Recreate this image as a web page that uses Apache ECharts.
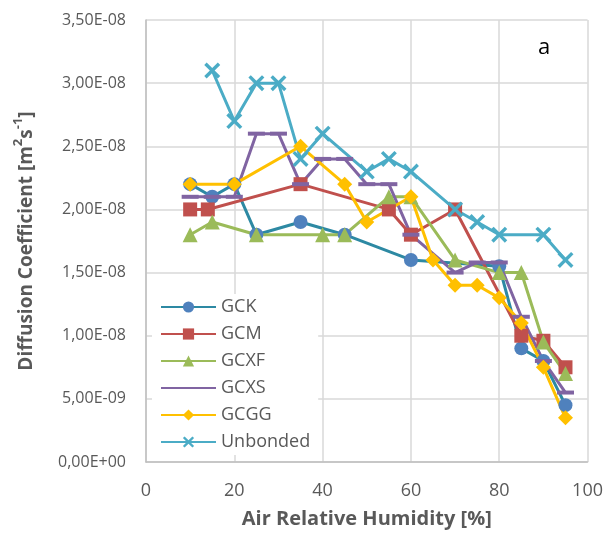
<!DOCTYPE html>
<html>
<head>
<meta charset="utf-8">
<script src="https://cdn.jsdelivr.net/npm/echarts@6/dist/echarts.min.js"></script>
<style>html,body{margin:0;padding:0;background:#fff}#c{width:606px;height:534px}</style>
</head>
<body>
<div id="c"></div>
<script>
// Data (x = air relative humidity %, y = diffusion coefficient m2/s)
const seriesNames = ['GCK', 'GCM', 'GCXF', 'GCXS', 'GCGG', 'Unbonded'];
const gckX = [10, 15, 20, 25, 35, 45, 60, 80, 85, 90, 95];
const gckY = [2.2e-8, 2.1e-8, 2.2e-8, 1.8e-8, 1.9e-8, 1.8e-8, 1.6e-8, 1.55e-8, 0.9e-8, 0.8e-8, 0.45e-8];
const gcmX = [10, 14, 35, 55, 60, 70, 85, 90, 95];
const gcmY = [2.0e-8, 2.0e-8, 2.2e-8, 2.0e-8, 1.8e-8, 2.0e-8, 1.0e-8, 0.96e-8, 0.75e-8];
const gcxfX = [10, 15, 25, 40, 45, 55, 60, 70, 80, 85, 90, 95];
const gcxfY = [1.8e-8, 1.9e-8, 1.8e-8, 1.8e-8, 1.8e-8, 2.1e-8, 2.1e-8, 1.6e-8, 1.5e-8, 1.5e-8, 0.95e-8, 0.7e-8];
const gcxsX = [10, 15, 20, 25, 30, 35, 40, 45, 50, 55, 60, 70, 75, 80, 85, 90, 95];
const gcxsY = [2.1e-8, 2.1e-8, 2.1e-8, 2.6e-8, 2.6e-8, 2.2e-8, 2.4e-8, 2.4e-8, 2.2e-8, 2.2e-8, 1.8e-8, 1.5e-8, 1.58e-8, 1.58e-8, 1.15e-8, 0.8e-8, 0.55e-8];
const gcggX = [10, 20, 35, 45, 50, 60, 65, 70, 75, 80, 85, 90, 95];
const gcggY = [2.2e-8, 2.2e-8, 2.5e-8, 2.2e-8, 1.9e-8, 2.1e-8, 1.6e-8, 1.4e-8, 1.4e-8, 1.3e-8, 1.1e-8, 0.75e-8, 0.35e-8];
const unbX = [15, 20, 25, 30, 35, 40, 50, 55, 60, 70, 75, 80, 90, 95];
const unbY = [3.1e-8, 2.7e-8, 3.0e-8, 3.0e-8, 2.4e-8, 2.6e-8, 2.3e-8, 2.4e-8, 2.3e-8, 2.0e-8, 1.9e-8, 1.8e-8, 1.8e-8, 1.6e-8];
const xTicks = [0, 20, 40, 60, 80, 100];

function pairs(xs, ys) { return xs.map((x, i) => [x, ys[i]]); }
function fmtExp(v) {
  if (v === 0) return '0,00E+00';
  const s = v.toExponential(2);
  const parts = s.split('e');
  const e = parseInt(parts[1], 10);
  return parts[0].replace('.', ',') + 'E' + (e < 0 ? '-' : '+') + String(Math.abs(e)).padStart(2, '0');
}

const FONT = 'Open Sans';
const TXT = '#595959';
const xPath = 'path://M1.5,0 L5,3.5 L8.5,0 L10,1.5 L6.5,5 L10,8.5 L8.5,10 L5,6.5 L1.5,10 L0,8.5 L3.5,5 L0,1.5 Z';

const styles = [
  { line: '#2D89A3', fill: '#4F81BD', symbol: 'circle', size: 14 },
  { line: '#C0504D', fill: '#C0504D', symbol: 'rect', size: 14 },
  { line: '#9BBB59', fill: '#9BBB59', symbol: 'triangle', size: 15 },
  { line: '#8064A2', fill: '#8064A2', symbol: 'rect', size: [17, 4] },
  { line: '#FFC000', fill: '#FFC000', symbol: 'diamond', size: 15 },
  { line: '#4BACC6', fill: '#4BACC6', symbol: xPath, size: 16 }
];
const dataSets = [pairs(gckX, gckY), pairs(gcmX, gcmY), pairs(gcxfX, gcxfY), pairs(gcxsX, gcxsY), pairs(gcggX, gcggY), pairs(unbX, unbY)];

const chart = echarts.init(document.getElementById('c'), null, { renderer: 'canvas' });
chart.setOption({
  animation: false,
  backgroundColor: '#fff',
  textStyle: { fontFamily: FONT },
  grid: { left: 146, right: 18, top: 20, bottom: 71, containLabel: false },
  xAxis: {
    type: 'value', min: 0, max: 100, interval: 20,
    name: 'Air Relative Humidity [%]', nameLocation: 'middle', nameGap: 47,
    nameTextStyle: { fontFamily: FONT, fontWeight: 'bold', fontSize: 20, color: TXT },
    axisLine: { show: true, onZero: false, lineStyle: { color: '#BFBFBF', width: 1.5 } },
    axisTick: { show: false },
    axisLabel: { fontFamily: FONT, fontSize: 18, color: TXT, margin: 20,
      formatter: v => xTicks.indexOf(v) >= 0 ? String(v) : '' },
    splitLine: { show: true, lineStyle: { color: '#D9D9D9', width: 1.5 } }
  },
  yAxis: {
    type: 'value', min: 0, max: 3.5e-8, interval: 0.5e-8,
    name: '{b|Diffusion Coefficient [m}{s|2}{b|s}{s|-1}{b|]}', nameLocation: 'middle', nameGap: 110,
    nameTextStyle: {
      fontFamily: FONT, fontWeight: 'bold', fontSize: 19, color: TXT,
      rich: {
        b: { fontFamily: FONT, fontWeight: 'bold', fontSize: 19, color: TXT, lineHeight: 24, verticalAlign: 'bottom' },
        s: { fontFamily: FONT, fontWeight: 'bold', fontSize: 13, color: TXT, lineHeight: 24, verticalAlign: 'top' }
      }
    },
    axisLine: { show: true, lineStyle: { color: '#BFBFBF', width: 1.5 } },
    axisTick: { show: false },
    axisLabel: { fontFamily: FONT, fontSize: 16, color: TXT, margin: 20, formatter: fmtExp },
    splitLine: { show: true, lineStyle: { color: '#D9D9D9', width: 1.5 } }
  },
  legend: {
    orient: 'vertical', left: 152, top: 294,
    itemWidth: 55, itemHeight: 14, itemGap: 9,
    backgroundColor: '#fff', padding: [4, 8, 4, 8],
    textStyle: { fontFamily: FONT, fontSize: 18, color: TXT },
    data: seriesNames.map(n => n === 'GCXS' ? { name: n, itemStyle: { opacity: 0 } } : n)
  },
  graphic: [{ type: 'text', left: 538, top: 37, style: { text: 'a', fontFamily: FONT, fontSize: 22, fill: '#000' } }],
  series: seriesNames.map((n, i) => ({
    name: n, type: 'line', data: dataSets[i],
    symbol: styles[i].symbol, symbolSize: styles[i].size,
    lineStyle: { color: styles[i].line, width: 3 },
    itemStyle: { color: styles[i].fill, borderWidth: 0 },
    emphasis: { disabled: true }
  }))
});
</script>
</body>
</html>
